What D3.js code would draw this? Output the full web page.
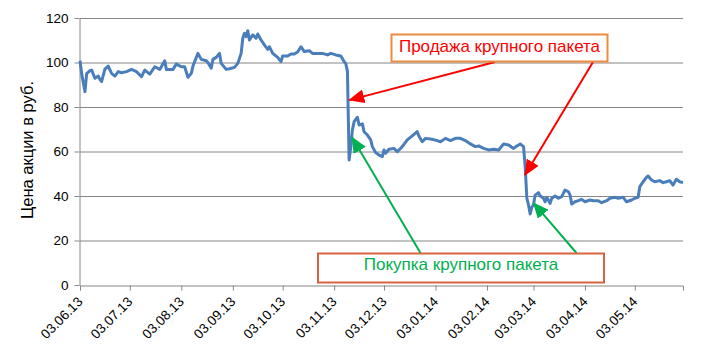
<!DOCTYPE html>
<html>
<head>
<meta charset="utf-8">
<script src="https://cdn.jsdelivr.net/npm/d3@7"></script>
<style>
body { margin: 0; background: #fff; }
svg { display: block; font-family: "Liberation Sans", Arial, sans-serif; }
</style>
</head>
<body>
<svg id="chart" width="710" height="354"></svg>
<script>
// days counted from 03.06.13
var dayIndex = [0,1,3,4,6,7,9,11,12,13,15,17,19,21,23,25,28,31,34,37,39,42,45,48,51,52,56,58,61,63,65,67,68,71,73,76,77,79,80,82,84,85,88,90,93,95,97,98,99,100,101,102,104,106,107,109,111,113,114,116,119,121,122,125,127,129,131,133,135,138,140,143,146,149,151,154,157,159,160,161,162,163,164,165,167,168,170,171,173,175,176,178,180,182,183,184,186,189,191,194,197,200,203,204,206,208,212,215,217,220,223,226,229,232,235,238,240,243,246,249,252,255,258,261,263,265,267,268,269,270,271,272,273,274,276,277,278,279,280,281,283,284,286,288,290,292,294,295,296,298,300,302,304,307,309,312,314,317,319,322,324,327,329,332,334,336,337,339,341,342,344,346,349,351,353,355,357,359,361,363]
var price = [100.8,95,86.9,95,96.3,96.6,92.9,93.9,92.4,91.4,97,98.4,95.1,93.9,95.9,95.4,95.9,96.9,95.9,93.6,96.6,94.8,98.1,96.9,100.8,96.9,96.9,99.3,98.1,98.1,93.3,95.1,98.4,104.1,101.4,100.8,100,97.4,101.4,102.3,104.1,99.6,96.9,97.2,97.8,99.6,104.1,110.9,113.1,111.6,114.3,110.1,112.4,110.9,112.8,110.1,107.9,105.9,107.1,104.1,102.3,100.4,102.9,102.9,103.8,103.8,104.7,107.1,104.9,105.3,104.1,104.1,104.1,103.4,104.1,103.4,102.9,100.4,99.5,96,56.2,62,69.7,73.4,75.4,71.9,72.4,68.9,67.4,65.2,62.2,59.5,58.4,57.7,60.7,59.2,61,61.4,59.9,62.2,65.2,67,68.9,67,64.4,65.9,65.5,64.9,64.4,65.9,64.9,65.9,65.9,64.9,63.4,62.2,62.5,61.4,60.7,61,60.7,63.4,62.9,61.4,62.5,63.4,62.2,53.2,39,36,31.9,35,36,40.4,41.5,40,39.5,39,37.4,39.4,36.7,39,40,39,39.7,42.7,41.9,40.5,36.4,37.4,37.9,38.5,37.4,38.2,37.9,37.9,37,37.9,39,39.4,39,39.4,37.4,38.2,39,39.4,44.2,46.4,48.4,49,47.2,46.4,46.9,46,46.4,46.9,44.9,47.5,46.4,46]
var tickLabels = ['03.06.13','03.07.13','03.08.13','03.09.13','03.10.13','03.11.13','03.12.13','03.01.14','03.02.14','03.03.14','03.04.14','03.05.14']
var yTicks = [0, 20, 40, 60, 80, 100, 120]
var sellText = 'Продажа крупного пакета'
var buyText = 'Покупка крупного пакета'
// arrow tips as [day, price]
var sellTips = [[162.1, 83.1], [267.9, 49.4]]
var buyTips = [[163.8, 66.3], [273, 36.9]]

var parse = d3.timeParse('%d.%m.%y')
var start = parse('03.06.13')
var data = dayIndex.map(function (d, i) {
    return { date: d3.timeDay.offset(start, d), value: price[i] }
})

var svg = d3.select('#chart')
var margin = { left: 80, right: 683, top: 18, bottom: 285 }
var grey = '#868686'

var x = d3.scaleTime()
    .domain([start, parse('01.06.14')])
    .range([margin.left, margin.right])
var y = d3.scaleLinear().domain([0, 120]).range([margin.bottom, margin.top])

// grid
svg.append('g').selectAll('line')
    .data(yTicks.slice(1)).enter()
    .append('line')
    .attr('x1', margin.left).attr('x2', margin.right)
    .attr('y1', d => y(d) + 0.5).attr('y2', d => y(d) + 0.5)
    .attr('stroke', grey)

var yAxis = svg.append('g')
    .attr('transform', 'translate(' + (margin.left - 0.5) + ',0)')
    .call(d3.axisLeft(y).tickValues(yTicks).tickSize(5).tickSizeOuter(0).tickPadding(6))
yAxis.selectAll('path,line').attr('stroke', grey)
yAxis.selectAll('text').attr('font-size', 13.5).attr('fill', '#000')
    .attr('font-family', '"Liberation Sans", Arial, sans-serif')

var xAxis = svg.append('g')
    .attr('transform', 'translate(0,' + (margin.bottom + 0.5) + ')')
    .call(d3.axisBottom(x).tickValues(tickLabels.map(parse))
        .tickFormat(d3.timeFormat('%d.%m.%y')).tickSize(5).tickSizeOuter(5))
xAxis.selectAll('path,line').attr('stroke', grey)
xAxis.selectAll('text')
    .attr('font-size', 13.5).attr('fill', '#000')
    .attr('font-family', '"Liberation Sans", Arial, sans-serif')
    .attr('text-anchor', 'end')
    .attr('dy', null).attr('y', null)
    .attr('transform', 'translate(3,17) rotate(-45)')

svg.append('text')
    .attr('transform', 'translate(33,150) rotate(-90)')
    .attr('text-anchor', 'middle')
    .attr('font-size', 16.5)
    .text('Цена акции в руб.')

var line = d3.line()
    .x(d => x(d.date))
    .y(d => y(d.value))

svg.append('path')
    .datum(data)
    .attr('d', line)
    .attr('fill', 'none')
    .attr('stroke', '#4A7EBB')
    .attr('stroke-width', 3)
    .attr('stroke-linejoin', 'round')

// arrow heads
var defs = svg.append('defs')
function marker(id, color) {
    defs.append('marker')
        .attr('id', id)
        .attr('markerUnits', 'userSpaceOnUse')
        .attr('markerWidth', 16).attr('markerHeight', 14)
        .attr('refX', 15).attr('refY', 7)
        .attr('orient', 'auto')
        .append('path')
        .attr('d', 'M0,0 L16,7 L0,14 Z')
        .attr('fill', color)
}
marker('redHead', '#FF0000')
marker('greenHead', '#00B050')

function tipPoint(t) {
    return [x(d3.timeDay.offset(start, Math.floor(t[0])).getTime() + (t[0] % 1) * 864e5), y(t[1])]
}

// sell box
var sellBox = { x: 391.5, y: 34.5, w: 216, h: 27 }
var sellTails = [[495, 62], [593, 62]]
sellTips.forEach(function (t, i) {
    var p = tipPoint(t)
    svg.append('line')
        .attr('x1', sellTails[i][0]).attr('y1', sellTails[i][1])
        .attr('x2', p[0]).attr('y2', p[1])
        .attr('stroke', '#FF0000').attr('stroke-width', 2)
        .attr('marker-end', 'url(#redHead)')
})
svg.append('rect')
    .attr('x', sellBox.x).attr('y', sellBox.y)
    .attr('width', sellBox.w).attr('height', sellBox.h)
    .attr('fill', '#fff').attr('stroke', '#EE8A3E').attr('stroke-width', 2)
svg.append('text')
    .attr('x', sellBox.x + sellBox.w / 2).attr('y', sellBox.y + 17)
    .attr('text-anchor', 'middle')
    .attr('font-size', 17).attr('fill', '#FF0000')
    .text(sellText)

// buy box
var buyBox = { x: 318, y: 253.5, w: 286, h: 29 }
var buyTails = [[420.5, 253], [576.5, 253]]
buyTips.forEach(function (t, i) {
    var p = tipPoint(t)
    svg.append('line')
        .attr('x1', buyTails[i][0]).attr('y1', buyTails[i][1])
        .attr('x2', p[0]).attr('y2', p[1])
        .attr('stroke', '#00B050').attr('stroke-width', 2)
        .attr('marker-end', 'url(#greenHead)')
})
svg.append('rect')
    .attr('x', buyBox.x).attr('y', buyBox.y)
    .attr('width', buyBox.w).attr('height', buyBox.h)
    .attr('fill', '#fff').attr('stroke', '#D9623F').attr('stroke-width', 2)
svg.append('text')
    .attr('x', buyBox.x + buyBox.w / 2).attr('y', buyBox.y + 16)
    .attr('text-anchor', 'middle')
    .attr('font-size', 17).attr('fill', '#00B050')
    .text(buyText)
</script>
</body>
</html>
